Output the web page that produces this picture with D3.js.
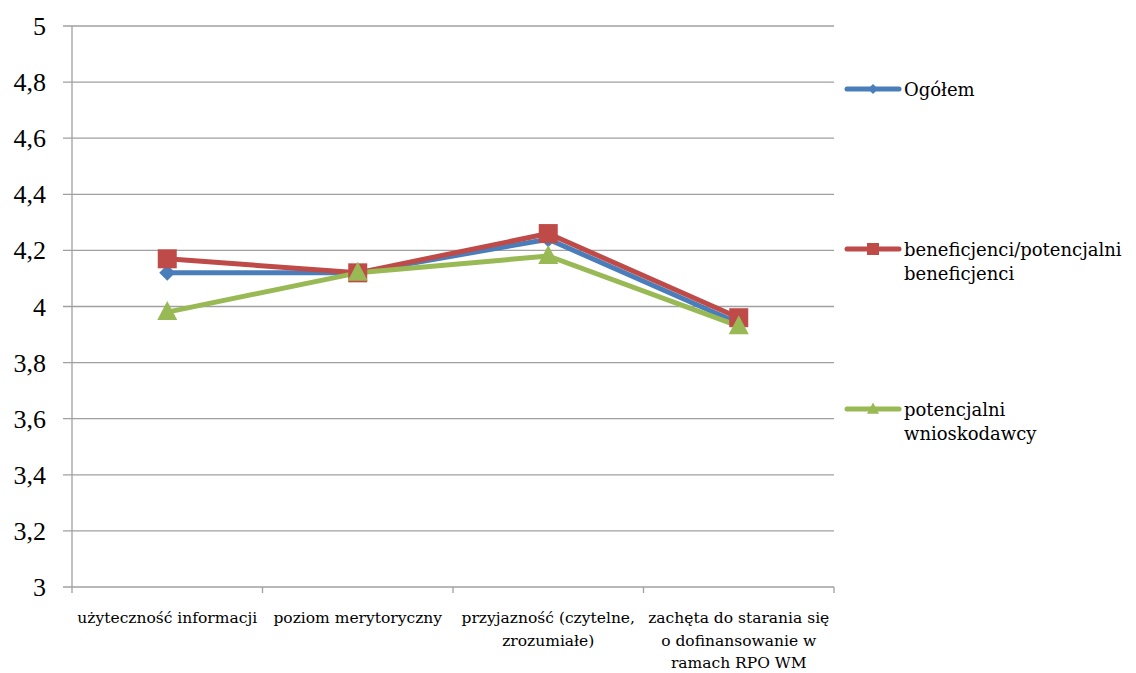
<!DOCTYPE html>
<html>
<head>
<meta charset="utf-8">
<script src="https://cdn.jsdelivr.net/npm/d3@7"></script>
<style>
  html, body { margin: 0; padding: 0; background: #fff; }
  svg { display: block; }
  text { font-family: "DejaVu Serif", "Liberation Serif", serif; fill: #000; }
</style>
</head>
<body>
<svg id="chart" width="1136" height="673"></svg>
<script>
// Kategorie oceny
const categories = [
  ["użyteczność informacji"],
  ["poziom merytoryczny"],
  ["przyjazność (czytelne,", "zrozumiałe)"],
  ["zachęta do starania się", "o dofinansowanie w", "ramach RPO WM"]
];
const categoryKeys = ["k1", "k2", "k3", "k4"];

// Średnie oceny w grupach
const ogolem = [4.12, 4.12, 4.24, 3.94];
const beneficjenci = [4.17, 4.12, 4.26, 3.96];
const wnioskodawcy = [3.98, 4.12, 4.18, 3.93];

const seriesNames = [["Ogółem"], ["beneficjenci/potencjalni", "beneficjenci"], ["potencjalni", "wnioskodawcy"]];
const yTicks = [3, 3.2, 3.4, 3.6, 3.8, 4, 4.2, 4.4, 4.6, 4.8, 5];

const series = [
  { name: seriesNames[0], values: ogolem, color: "#4a7ebb", marker: "diamond" },
  { name: seriesNames[1], values: beneficjenci, color: "#be4b48", marker: "square" },
  { name: seriesNames[2], values: wnioskodawcy, color: "#98b954", marker: "triangle" }
];

const svg = d3.select("#chart");
const plotLeft = 72, plotRight = 834, plotTop = 26, plotBottom = 587;

const x = d3.scaleBand().domain(categoryKeys).range([plotLeft, plotRight]).padding(0);
const y = d3.scaleLinear().domain([3, 5]).range([plotBottom, plotTop]);

// Siatka pozioma
svg.append("g")
  .selectAll("line")
  .data(yTicks)
  .join("line")
  .attr("x1", plotLeft - 9).attr("x2", plotRight)
  .attr("y1", d => y(d)).attr("y2", d => y(d))
  .attr("stroke", "#a0a0a0").attr("stroke-width", 1.3);

// Oś Y
svg.append("line")
  .attr("x1", plotLeft).attr("x2", plotLeft).attr("y1", plotTop).attr("y2", plotBottom)
  .attr("stroke", "#a0a0a0").attr("stroke-width", 1.3);

svg.append("g")
  .selectAll("text")
  .data(yTicks)
  .join("text")
  .attr("x", 46)
  .attr("y", d => y(d) + 9)
  .attr("text-anchor", "end")
  .style("font-size", "26px")
  .style("font-family", "'Liberation Serif', serif")
  .text(d => d3.format(".1f")(d).replace(".0", "").replace(".", ","));

// Oś X z podziałkami
const xBoundaries = categoryKeys.map(k => x(k)).concat([plotRight]);
svg.append("g")
  .selectAll("line")
  .data(xBoundaries)
  .join("line")
  .attr("x1", d => d).attr("x2", d => d)
  .attr("y1", plotBottom).attr("y2", plotBottom + 6)
  .attr("stroke", "#a0a0a0").attr("stroke-width", 1.3);

// Etykiety kategorii
const labelG = svg.append("g");
categories.forEach((lines, i) => {
  const cx = x(categoryKeys[i]) + x.bandwidth() / 2;
  const t = labelG.append("text")
    .attr("text-anchor", "middle")
    .style("font-size", "15.5px");
  lines.forEach((ln, j) => {
    t.append("tspan").attr("x", cx).attr("y", 623 + j * 22.5).text(ln);
  });
});

// Znaczniki
function drawMarker(g, type, cx, cy, color, s) {
  if (type === "diamond") {
    g.append("path")
      .attr("d", `M${cx},${cy - s}L${cx + s},${cy}L${cx},${cy + s}L${cx - s},${cy}Z`)
      .attr("fill", color);
  } else if (type === "square") {
    g.append("rect")
      .attr("x", cx - s).attr("y", cy - s).attr("width", 2 * s).attr("height", 2 * s)
      .attr("fill", color);
  } else {
    g.append("path")
      .attr("d", `M${cx},${cy - s * 1.1}L${cx + s},${cy + s * 0.8}L${cx - s},${cy + s * 0.8}Z`)
      .attr("fill", color);
  }
}

const line = d3.line()
  .x((d, i) => x(categoryKeys[i]) + x.bandwidth() / 2)
  .y(d => y(d));

const plotG = svg.append("g");
series.forEach(s => {
  plotG.append("path")
    .datum(s.values)
    .attr("d", line)
    .attr("fill", "none")
    .attr("stroke", s.color)
    .attr("stroke-width", 5)
    .attr("stroke-linejoin", "round")
    .attr("stroke-linecap", "round");
});
series.forEach(s => {
  const size = s.marker === "diamond" ? 8 : (s.marker === "square" ? 9.5 : 10);
  s.values.forEach((v, i) => {
    drawMarker(plotG, s.marker, x(categoryKeys[i]) + x.bandwidth() / 2, y(v), s.color, size);
  });
});

// Legenda
const legendY = [89, 249, 409];
const legend = svg.append("g");
series.forEach((s, i) => {
  const ly = legendY[i];
  legend.append("line")
    .attr("x1", 847).attr("x2", 899).attr("y1", ly).attr("y2", ly)
    .attr("stroke", s.color).attr("stroke-width", 5).attr("stroke-linecap", "round");
  drawMarker(legend, s.marker, 873, ly, s.color, s.marker === "diamond" ? 5 : 6);
  const t = legend.append("text").style("font-size", "18px");
  s.name.forEach((ln, j) => {
    t.append("tspan").attr("x", 904).attr("y", ly + 7 + j * 23.5).text(ln);
  });
});
</script>
</body>
</html>
